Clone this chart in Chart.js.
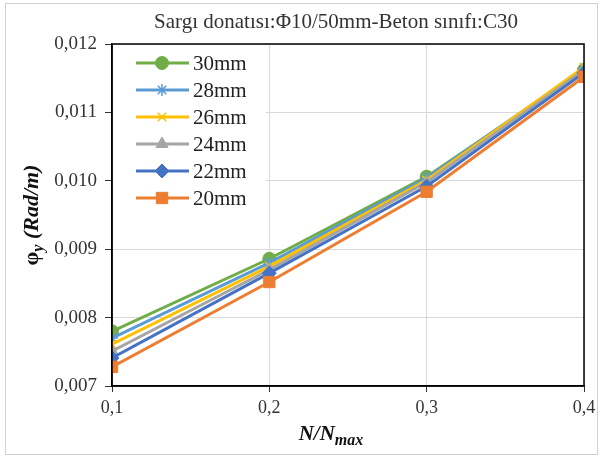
<!DOCTYPE html>
<html>
<head>
<meta charset="utf-8">
<script src="https://cdn.jsdelivr.net/npm/chart.js@4.4.0/dist/chart.umd.min.js"></script>
<style>
html, body { margin: 0; padding: 0; background: #fff; }
#wrap { width: 603px; height: 459px; }
</style>
</head>
<body>
<div id="wrap"><canvas id="phichart"></canvas></div>
<script>
// N/Nmax values and tick labels
var xValues = [0.1, 0.2, 0.3, 0.4];
var xTickLabels = ['0,1', '0,2', '0,3', '0,4'];
var yValues = [0.007, 0.008, 0.009, 0.010, 0.011, 0.012];
var yTickLabels = ['0,007', '0,008', '0,009', '0,010', '0,011', '0,012'];

// curvature phi_y for each spacing
var seriesNames = ['30mm', '28mm', '26mm', '24mm', '22mm', '20mm'];
var s30 = [0.00780, 0.00886, 0.01006, 0.01162];
var s28 = [0.00770, 0.00880, 0.01004, 0.01164];
var s26 = [0.00761, 0.00875, 0.01001, 0.01166];
var s24 = [0.00751, 0.00870, 0.00998, 0.01162];
var s22 = [0.00741, 0.00865, 0.00992, 0.01158];
var s20 = [0.00728, 0.00852, 0.00984, 0.01152];

var colors = ['#70AD47', '#5B9BD5', '#FFC000', '#A5A5A5', '#4472C4', '#ED7D31'];
var styles = ['circle', 'star', 'crossRot', 'triangle', 'rectRot', 'rect'];
var radii = [6.5, 6, 6, 7, 7, 8];
var allSeries = [s30, s28, s26, s24, s22, s20];

function toPoints(arr) {
	return arr.map(function (v, i) { return { x: xValues[i], y: v }; });
}

var datasets = allSeries.map(function (arr, i) {
	return {
		label: seriesNames[i],
		data: toPoints(arr),
		borderColor: colors[i],
		backgroundColor: colors[i],
		borderWidth: 3,
		pointStyle: styles[i],
		pointRadius: radii[i],
		pointBorderWidth: (styles[i] == 'star' || styles[i] == 'crossRot') ? 1.5 : 1,
		pointBorderColor: colors[i],
		pointBackgroundColor: colors[i],
		order: 5 - i,
		tension: 0
	};
});

var serif = '"Liberation Serif", "Times New Roman", serif';

/*  custom drawing: outer frame, plot frame, legend box, axis titles  */
var extras = {
	id: 'extras',
	beforeDraw: function (chart) {
		var c = chart.ctx;
		c.save();
		c.fillStyle = '#fff';
		c.fillRect(0, 0, chart.width, chart.height);
		c.strokeStyle = '#d0d0d0';
		c.lineWidth = 1;
		c.strokeRect(5.5, 3.5, 592, 451);
		c.restore();
	},
	afterDraw: function (chart) {
		var c = chart.ctx;
		var a = chart.chartArea;
		c.save();
		// plot frame
		c.strokeStyle = '#000';
		c.lineWidth = 1.5;
		c.strokeRect(a.left, a.top, a.right - a.left, a.bottom - a.top);

		// title
		c.fillStyle = '#333';
		c.font = '21px ' + serif;
		c.textAlign = 'center';
		c.textBaseline = 'middle';
		c.fillText('Sargı donatısı:Φ10/50mm-Beton sınıfı:C30', 336, 22);

		// legend
		c.fillStyle = '#fff';
		c.fillRect(a.left + 1, a.top + 1, 153, 170);
		for (var i = 0; i < seriesNames.length; i++) {
			var y = 63 + i * 27;
			c.strokeStyle = colors[i];
			c.lineWidth = 3;
			c.beginPath();
			c.moveTo(136, y);
			c.lineTo(189, y);
			c.stroke();
			c.fillStyle = colors[i];
			c.lineWidth = datasets[i].pointBorderWidth;
			Chart.helpers.drawPoint(c, { pointStyle: styles[i], radius: radii[i], rotation: 0, borderWidth: datasets[i].pointBorderWidth }, 162, y);
			c.fillStyle = '#222';
			c.font = '21px ' + serif;
			c.textAlign = 'left';
			c.textBaseline = 'middle';
			c.fillText(seriesNames[i], 193, y + 1);
		}

		// x title N/Nmax
		var big = 'italic bold 21px ' + serif;
		var small = 'italic bold 16px ' + serif;
		c.fillStyle = '#111';
		c.textAlign = 'left';
		c.textBaseline = 'alphabetic';
		c.font = big;
		var w1 = c.measureText('N/N').width;
		c.font = small;
		var w2 = c.measureText('max').width;
		var x0 = 331 - (w1 + w2) / 2;
		c.font = big;
		c.fillText('N/N', x0, 440);
		c.font = small;
		c.fillText('max', x0 + w1, 445);

		// y title phi_y (Rad/m)
		var ybig = 'italic bold 22px ' + serif;
		var ysmall = 'italic bold 16px ' + serif;
		c.translate(31, (a.top + a.bottom) / 2);
		c.rotate(-Math.PI / 2);
		c.font = 'bold 22px ' + serif;
		var p1 = c.measureText('φ').width;
		c.font = ybig;
		var p3 = c.measureText(' (Rad/m)').width;
		c.font = ysmall;
		var p2 = c.measureText('y').width;
		var sx = -(p1 + p2 + p3) / 2;
		c.font = 'bold 22px ' + serif;
		c.fillText('φ', sx, 7);
		c.font = ysmall;
		c.fillText('y', sx + p1, 12);
		c.font = ybig;
		c.fillText(' (Rad/m)', sx + p1 + p2, 7);
		c.restore();
	}
};

var ctx = document.getElementById('phichart');
var phichart = new Chart(ctx, {
	type: 'line',
	data: { datasets: datasets },
	options: {
		responsive: true,
		maintainAspectRatio: false,
		animation: false,
		events: [],
		layout: { padding: { left: 0, right: 19, top: 44, bottom: 0 } },
		plugins: {
			legend: { display: false },
			title: { display: false },
			tooltip: { enabled: false }
		},
		scales: {
			x: {
				type: 'linear',
				min: 0.1,
				max: 0.4,
				afterBuildTicks: function (scale) {
					scale.ticks = xValues.map(function (v) { return { value: v }; });
				},
				afterFit: function (scale) { scale.height = 73; },
				ticks: {
					padding: 5,
					color: '#333',
					font: { family: serif, size: 18 },
					callback: function (v, i) { return xTickLabels[i]; }
				},
				grid: { color: '#d9d9d9', lineWidth: 1, tickLength: 6, tickColor: '#333' },
				border: { color: '#000', width: 1.5 }
			},
			y: {
				min: 0.007,
				max: 0.012,
				afterBuildTicks: function (scale) {
					scale.ticks = yValues.map(function (v) { return { value: v }; });
				},
				afterFit: function (scale) { scale.width = 112; },
				ticks: {
					padding: 8,
					color: '#333',
					font: { family: serif, size: 19 },
					callback: function (v, i) { return yTickLabels[i]; }
				},
				grid: { color: '#d9d9d9', lineWidth: 1, tickLength: 7, tickColor: '#333' },
				border: { color: '#000', width: 1.5 }
			}
		}
	},
	plugins: [extras]
});
</script>
</body>
</html>
